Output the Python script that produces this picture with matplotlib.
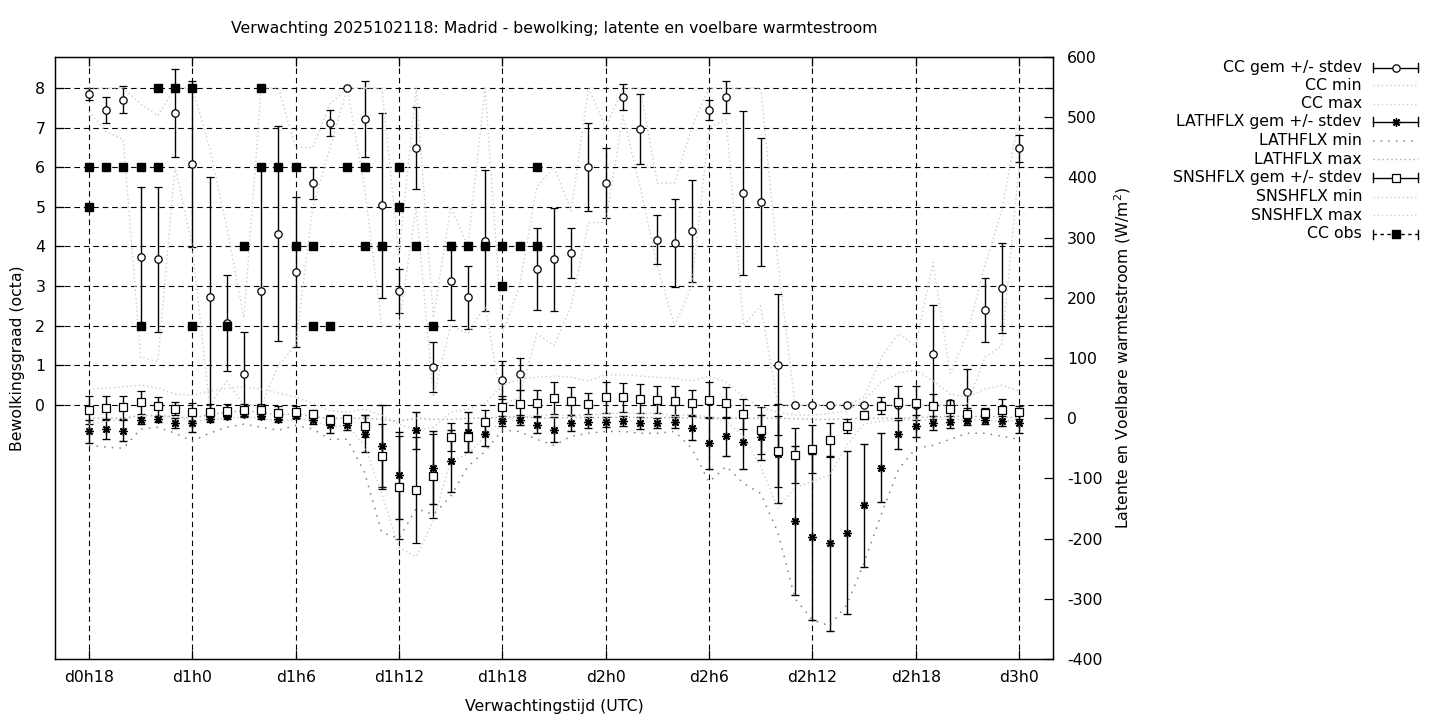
import matplotlib
matplotlib.use('Agg')
import matplotlib.pyplot as plt
from matplotlib.lines import Line2D

# ---------------- data ----------------
hours = list(range(18, 73))
tick_hours = [18, 24, 30, 36, 42, 48, 54, 60, 66, 72]
tick_labels = ['d0h18', 'd1h0', 'd1h6', 'd1h12', 'd1h18', 'd2h0', 'd2h6', 'd2h12', 'd2h18', 'd3h0']
cc_ticks = [0, 1, 2, 3, 4, 5, 6, 7, 8]
flux_ticks = [-400, -300, -200, -100, 0, 100, 200, 300, 400, 500, 600]

cc_mean = [7.85, 7.45, 7.70, 3.74, 3.68, 7.37, 6.08, 2.72, 2.07, 0.78,
           2.88, 4.32, 3.36, 5.60, 7.11, 8.00, 7.22, 5.04, 2.87, 6.48,
           0.95, 3.13, 2.72, 4.15, 0.63, 0.78, 3.43, 3.68, 3.83, 6.00,
           5.60, 7.77, 6.96, 4.17, 4.08, 4.39, 7.45, 7.77, 5.36, 5.12,
           1.02, 0.00, 0.00, 0.00, 0.00, 0.00, 0.00, 0.00, 0.00, 1.28,
           0.05, 0.33, 2.39, 2.95, 6.48]
cc_std = [0.15, 0.33, 0.34, 1.77, 1.83, 1.11, 2.10, 3.03, 1.21, 1.06,
          3.10, 2.71, 1.90, 0.41, 0.33, 0.00, 0.96, 2.33, 0.56, 1.03,
          0.63, 0.98, 0.79, 1.77, 0.47, 0.40, 1.04, 1.30, 0.63, 1.11,
          0.88, 0.33, 0.89, 0.62, 1.11, 1.28, 0.25, 0.41, 2.07, 1.61,
          1.77, 0.00, 0.00, 0.00, 0.00, 0.00, 0.00, 0.00, 0.00, 1.25,
          0.05, 0.58, 0.81, 1.13, 0.34]
cc_min = [7.4, 6.9, 6.7, 1.2, 1.1, 6.0, 4.0, 0.0, 0.6, 0.0,
          0.0, 1.0, 1.5, 5.0, 6.5, 8.0, 5.5, 2.0, 2.0, 5.0,
          0.2, 2.0, 1.8, 2.5, 0.0, 0.2, 1.8, 1.5, 2.5, 4.6,
          4.6, 7.3, 5.5, 3.5, 2.0, 3.0, 7.0, 7.2, 2.0, 2.5,
          0.0, 0.0, 0.0, 0.0, 0.0, 0.0, 0.0, 0.0, 0.0, 0.0,
          0.0, 0.0, 1.2, 1.5, 6.0]
cc_max = [8.0, 8.0, 8.0, 7.6, 7.3, 8.0, 8.0, 6.5, 4.5, 2.2,
          8.0, 8.0, 6.5, 6.5, 7.6, 8.0, 8.0, 8.0, 3.8, 8.0,
          2.2, 5.0, 4.0, 8.0, 1.8, 3.0, 5.5, 6.0, 4.9, 8.0,
          7.0, 8.0, 8.0, 5.6, 5.6, 7.0, 8.0, 8.0, 8.0, 8.0,
          3.6, 0.0, 0.0, 0.0, 0.0, 0.2, 1.2, 1.8, 1.5, 3.6,
          0.8, 1.8, 3.5, 4.9, 7.3]

lat_mean = [-21.6, -17.2, -20.5, -3.3, -1.7, -7.8, -8.3, -0.6, 3.3, 6.6,
            3.3, -0.6, 3.9, -3.3, -12.0, -12.0, -25.5, -46.5, -95.0, -20.0,
            -82.0, -71.0, -22.7, -25.5, -5.0, -3.3, -11.6, -18.8, -8.3, -6.6,
            -6.6, -5.0, -8.3, -8.0, -6.6, -15.5, -42.0, -30.0, -38.8, -32.0,
            -59.0, -170.0, -197.0, -208.0, -190.0, -145.0, -82.0, -26.6, -13.3, -7.8,
            -6.6, -4.4, -3.3, -5.0, -7.8]
lat_std = [19, 16.6, 18, 6, 5, 8, 15, 6, 5, 4,
           5, 5, 4, 6, 12, 8, 30, 68, 72, 31,
           60, 51, 33, 20, 8, 8, 13, 20, 13, 9,
           8, 8, 10, 9, 9, 20, 42, 32, 45, 38,
           82, 123, 138, 146, 135, 102, 58, 24, 18, 12,
           10, 7, 6, 8, 16]
lat_min = [-45, -48, -50, -18, -15, -25, -38, -25, -15, -10,
           -15, -20, -12, -18, -35, -35, -90, -190, -200, -150,
           -160, -130, -80, -55, -20, -22, -35, -45, -30, -25,
           -22, -22, -25, -25, -22, -50, -106, -80, -108, -125,
           -190, -300, -335, -345, -310, -240, -160, -85, -50, -45,
           -35, -25, -25, -30, -35]
lat_max = [0, 0, 0, 5, 5, 2, 0, 6, 10, 12,
           10, 5, 8, 2, 0, 0, 0, -2, -5, 0,
           -2, -2, 0, 0, 2, 3, 0, 0, 1, 1,
           1, 2, 1, 1, 1, 0, 0, 0, 0, 0,
           0, -1, -2, -2, -1, 0, 0, 0, 1, 2,
           3, 3, 3, 2, 1]

sns_mean = [13.3, 16.6, 18.3, 26.6, 19.9, 16.0, 11.0, 11.0, 12.7, 14.4,
            13.3, 8.3, 11.0, 6.6, -2.2, -0.6, -13.3, -63.0, -115.0, -120.0,
            -96.0, -31.6, -31.6, -6.0, 17.8, 24.4, 26.0, 33.8, 28.0, 24.4,
            34.4, 34.4, 32.7, 31.0, 29.4, 26.0, 31.0, 26.0, 7.7, -20.0,
            -55.0, -61.5, -51.5, -36.0, -13.3, 5.0, 21.0, 27.0, 25.5, 20.0,
            15.0, 7.7, 8.8, 13.3, 10.0]
sns_std = [23, 20, 19, 19, 16, 11, 15, 13, 11, 10,
           11, 12, 10, 7, 8, 6, 18, 54, 86, 88,
           70, 23, 24, 20, 19, 22, 21.6, 26, 23, 18,
           25, 24, 24, 22, 24, 21.6, 29, 25, 25, 39,
           59, 46, 40, 28, 12, 7, 14, 27, 28, 21,
           16, 10, 8, 18, 11]
sns_min = [-10, -5, -2, 5, 3, 2, -5, -3, 0, 2,
           0, -5, -2, -3, -15, -12, -45, -125, -215, -230,
           -170, -70, -60, -30, -2, 2, 5, 5, 5, 5,
           8, 8, 8, 8, 5, 5, 2, -5, -30, -80,
           -150, -115, -105, -95, -45, -10, -5, -2, -3, -2,
           -2, -3, -2, -5, -5]
sns_max = [48, 50, 52, 55, 50, 40, 38, 45, 50, 52,
           48, 42, 35, 25, 12, 10, 15, 5, -10, -20,
           -15, 10, 15, 25, 55, 65, 68, 70, 68, 62,
           72, 72, 70, 68, 66, 62, 70, 60, 35, 18,
           10, 5, 5, 8, 12, 30, 60, 75, 80, 62,
           40, 35, 48, 55, 45]

obs_hours = [18, 18, 19, 20, 21, 21, 22, 22, 23, 24, 24, 26, 27, 28, 28, 29, 30, 30,
             31, 31, 32, 33, 34, 34, 35, 36, 36, 37, 38, 39, 40, 41, 42, 42, 43, 44, 44]
obs_vals = [6, 5, 6, 6, 6, 2, 8, 6, 8, 8, 2, 2, 4, 8, 6, 6, 6, 4,
            4, 2, 2, 6, 6, 4, 4, 6, 5, 4, 2, 4, 4, 4, 4, 3, 4, 6, 4]

title = 'Verwachting 2025102118: Madrid - bewolking; latente en voelbare warmtestroom'
legend_labels = ['CC gem +/- stdev', 'CC min', 'CC max',
                 'LATHFLX gem +/- stdev', 'LATHFLX min', 'LATHFLX max',
                 'SNSHFLX gem +/- stdev', 'SNSHFLX min', 'SNSHFLX max', 'CC obs']

# ---------------- styles ----------------
plt.rcParams['font.family'] = ['DejaVu Sans']
plt.rcParams['axes.unicode_minus'] = False
FS = 11.3
W, H = 1440, 720
grid_ls = (0, (5, 3.5))
cc_line = dict(color='#cccccc', ls=(0, (1, 2.0)), lw=1.0)
latmin_line = dict(color='#808080', ls=(0, (1, 4.0)), lw=1.1)
latmax_line = dict(color='#a8a8a8', ls=(0, (1, 2.2)), lw=1.0)
sns_line = dict(color='#cdcdcd', ls=(0, (1, 2.0)), lw=1.0)
ast_marker = (8, 2, 0)

fig = plt.figure(figsize=(W / 100, H / 100), dpi=100)
ax = fig.add_axes([55 / W, 1 - 659 / H, 998 / W, 602 / H])
ax2 = ax.twinx()
ax3 = ax.twinx()

ax.set_xlim(16.03, 73.97)
ax.set_ylim(-6.41, 8.782)
ax2.set_ylim(-400, 600)
ax3.set_ylim(ax.get_ylim())
ax3.axis('off')

ax.set_xticks(tick_hours)
ax.set_xticklabels(tick_labels)
ax.set_yticks(cc_ticks)
ax2.set_yticks(flux_ticks)

ax.grid(True, color='black', ls=grid_ls, lw=0.8)
ax.set_axisbelow(True)

for a in (ax, ax2):
    for s in a.spines.values():
        s.set_linewidth(0.9)
        s.set_color('black')

ax.tick_params(axis='both', direction='in', length=6.5, width=0.9, labelsize=FS, colors='black')
ax.tick_params(axis='y', left=True, right=True, pad=7)
ax.tick_params(axis='x', bottom=True, top=True, pad=8)
ax2.tick_params(axis='y', direction='in', length=6.5, width=0.9, labelsize=FS, right=True, left=False, pad=10)

eb_kw = dict(ecolor='black', elinewidth=1.0, capsize=3.2, capthick=1.0, ls='none', color='black')

# CC
ax.errorbar(hours, cc_mean, yerr=cc_std, fmt='', marker='o', mfc='white', mec='black', ms=5.3, mew=0.9, **eb_kw)
ax.plot(hours, cc_min, **cc_line)
ax.plot(hours, cc_max, **cc_line)

# fluxes
ax2.errorbar(hours, lat_mean, yerr=lat_std, fmt='', marker=ast_marker, mfc='black', mec='black', ms=6, mew=1.0, **eb_kw)
ax2.plot(hours, lat_min, **latmin_line)
ax2.plot(hours, lat_max, **latmax_line)
ax2.errorbar(hours, sns_mean, yerr=sns_std, fmt='', marker='s', mfc='white', mec='black', ms=5.3, mew=0.9, **eb_kw)
ax2.plot(hours, sns_min, **sns_line)
ax2.plot(hours, sns_max, **sns_line)

# observations
ax3.plot(obs_hours, obs_vals, ls='none', marker='s', ms=5.3, mfc='black', mec='black')

# ---------------- texts ----------------
fig.text(554 / W, 1 - 29 / H, title, ha='center', va='center', fontsize=FS)
fig.text(554 / W, 1 - 706 / H, 'Verwachtingstijd (UTC)', ha='center', va='center', fontsize=FS)
fig.text(18 / W, 1 - 358 / H, 'Bewolkingsgraad (octa)', ha='center', va='center', rotation=90, fontsize=FS)
fig.text(1123 / W, 1 - 358 / H, r'Latente en Voelbare warmtestroom (W/m$^2$)', ha='center', va='center',
         rotation=90, fontsize=FS)

# ---------------- manual legend (gnuplot style) ----------------
row_y = [67.7, 85.0, 103.5, 121.8, 140.8, 159.3, 177.8, 196.5, 215.0, 234.0]
tx, lx0, lx1, mx = 1362, 1373, 1418, 1395.5
def fx(px):
    return px / W
def fy(py):
    return 1 - py / H

styles = ['eb_o', cc_line, cc_line, 'eb_ast', latmin_line, latmax_line, 'eb_s', sns_line, sns_line, 'obs']
for lab, y, st in zip(legend_labels, row_y, styles):
    fig.text(fx(tx), fy(y), lab, ha='right', va='center', fontsize=FS)
    if isinstance(st, dict):
        fig.add_artist(Line2D([fx(lx0), fx(lx1)], [fy(y), fy(y)], transform=fig.transFigure, **st))
        continue
    ls = '-' if st != 'obs' else (0, (2.5, 2.5))
    fig.add_artist(Line2D([fx(lx0), fx(lx1)], [fy(y), fy(y)], transform=fig.transFigure,
                          color='black', lw=1.0, ls=ls))
    for xe in (lx0, lx1):
        fig.add_artist(Line2D([fx(xe), fx(xe)], [fy(y - 4.5), fy(y + 4.5)], transform=fig.transFigure,
                              color='black', lw=1.0))
    if st == 'eb_o':
        mk = dict(marker='o', mfc='white', mec='black', ms=5.3, mew=0.9)
    elif st == 'eb_ast':
        mk = dict(marker=ast_marker, mfc='black', mec='black', ms=6, mew=1.0)
    elif st == 'eb_s':
        mk = dict(marker='s', mfc='white', mec='black', ms=5.3, mew=0.9)
    else:
        mk = dict(marker='s', mfc='black', mec='black', ms=5.3)
    fig.add_artist(Line2D([fx(mx)], [fy(y)], transform=fig.transFigure, ls='none', **mk))

fig.savefig('out.png', dpi=100)
